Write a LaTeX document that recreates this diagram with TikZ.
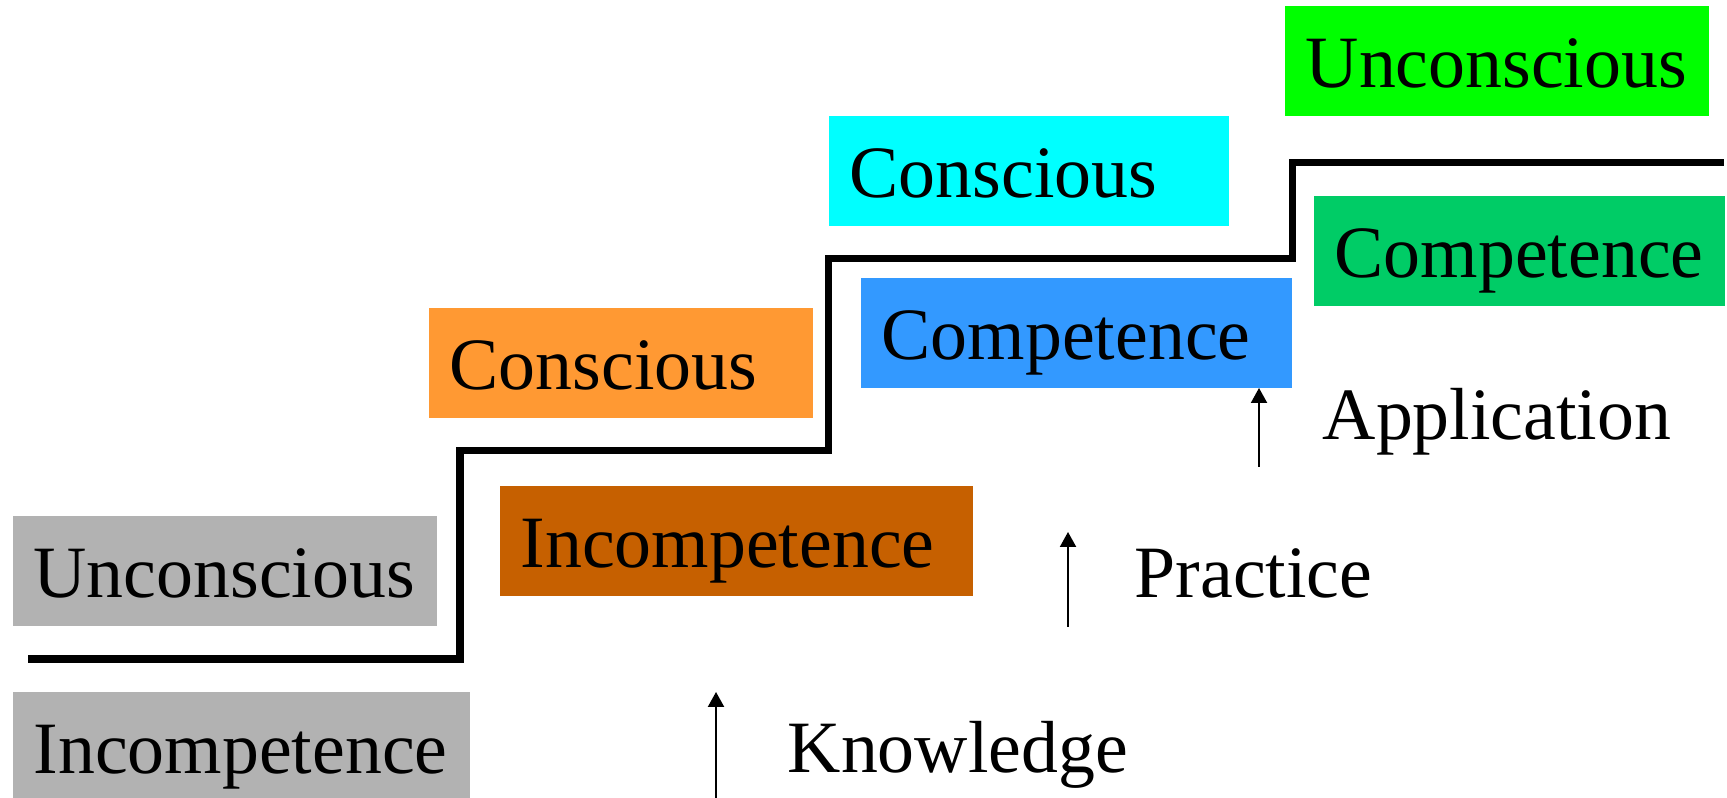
\documentclass[tikz,border=0pt]{standalone}
\usepackage{fontspec}
\setmainfont{Liberation Serif}
\usetikzlibrary{arrows.meta}

\definecolor{stagegray}{RGB}{178,178,178}
\definecolor{stagebrown}{RGB}{198,96,0}
\definecolor{stageorange}{RGB}{255,153,51}
\definecolor{stageblue}{RGB}{51,153,255}
\definecolor{stagecyan}{RGB}{0,255,255}
\definecolor{stagedkgreen}{RGB}{0,204,102}
\definecolor{stagegreen}{RGB}{0,255,0}

\begin{document}
\begin{tikzpicture}[every node/.style={font=\fontsize{21}{25}\selectfont},
    stage/.style={fill=#1, anchor=north west, align=left, inner xsep=0.21cm,
      inner ysep=0pt, minimum height=1.1cm, text height=0.6cm, text depth=0.06cm},
    steparrow/.style={line width=0.6pt, -{Triangle[width=0.16cm, length=0.15cm]}},
    label/.style={anchor=base west, inner sep=0pt}]
    \useasboundingbox (0,0) rectangle (17.27,7.98);

    % Stairs
    \draw[line width=2pt] (0.28,1.39) -- (4.60,1.39) -- (4.60,3.47) -- (8.28,3.47)
        -- (8.28,5.39) -- (12.92,5.39) -- (12.92,6.35) -- (17.24,6.35);

    % Stages
    \node[stage=stagegray, text width=4.15cm] (ui1) at (0.12,1.07) {Incompetence};
    \node[stage=stagegray, text width=3.82cm] (ui2) at (0.12,2.83) {Unconscious};
    \node[stage=stagebrown, text width=4.31cm] (ci1) at (4.99,3.13) {Incompetence};
    \node[stage=stageorange, text width=3.42cm] (ci2) at (4.28,4.91) {Conscious};
    \node[stage=stageblue, text width=3.89cm] (cc1) at (8.60,5.21) {Competence};
    \node[stage=stagecyan, text width=3.58cm] (cc2) at (8.28,6.83) {Conscious};
    \node[stage=stagedkgreen, text width=3.69cm] (uc1) at (13.13,6.03) {Competence};
    \node[stage=stagegreen, text width=3.82cm] (uc2) at (12.84,7.93) {Unconscious};

    % Arrows
    \coordinate (k0) at (7.16,0);
    \coordinate (k1) at (7.16,1.06);
    \coordinate (p0) at (10.68,1.71);
    \coordinate (p1) at (10.68,2.66);
    \coordinate (a0) at (12.59,3.31);
    \coordinate (a1) at (12.59,4.10);
    \draw[steparrow] (k0) -- (k1);
    \draw[steparrow] (p0) -- (p1);
    \draw[steparrow] (a0) -- (a1);

    \node[label] (know) at (7.87,0.25) {Knowledge};
    \node[label] (prac) at (11.34,2.00) {Practice};
    \node[label] (appl) at (13.22,3.58) {Application};
\end{tikzpicture}
\end{document}
